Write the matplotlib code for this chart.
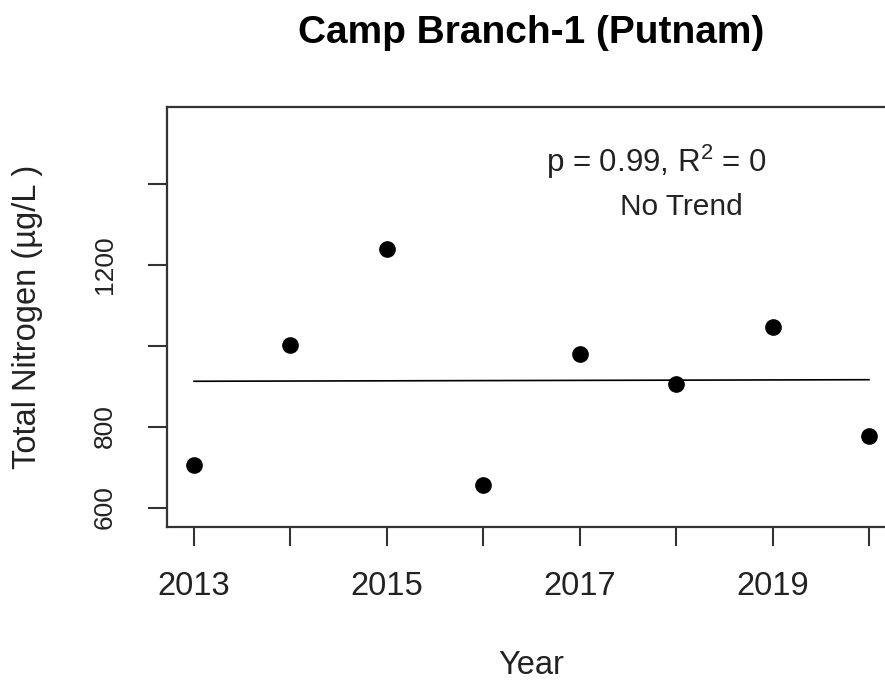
import numpy as np
import matplotlib
matplotlib.use("Agg")
import matplotlib.pyplot as plt

plt.rcParams['font.family'] = ['Liberation Sans', 'DejaVu Sans']
plt.rcParams['mathtext.fontset'] = 'custom'
plt.rcParams['mathtext.rm'] = 'Liberation Sans'

# data
years = [2013, 2014, 2015, 2016, 2017, 2018, 2019, 2020]
tn = [705, 1002, 1239, 656, 980, 905, 1046, 777]
yticks = [600, 800, 1000, 1200, 1400]
ytick_labels = ['600', '800', '', '1200', '']
xtick_labels = ['2013', '', '2015', '', '2017', '', '2019', '']

W, H = 885, 682
fig = plt.figure(figsize=(W / 100, H / 100), dpi=100)
# plot region (right edge runs past the image, like the cropped original)
left, right, top, bottom = 167, 896, 107, 527
ax = fig.add_axes([left / W, 1 - bottom / H, (right - left) / W, (bottom - top) / H])

ax.plot(years, tn, 'o', color='black', ms=11, clip_on=False)

# linear trend
coef = np.polyfit(years, tn, 1)
fit = np.polyval(coef, years)
ax.plot([years[0], years[-1]], [fit[0], fit[-1]], color='black', lw=1.2)

ax.set_xlim(2012.72, 2020.28)
ax.set_ylim(552, 1589)

ax.set_xticks(years)
ax.set_xticklabels(xtick_labels, fontsize=23.5, color='#222222')
ax.set_yticks(yticks)
ax.set_yticklabels(ytick_labels, fontsize=19, rotation=90, va='center', color='#222222')
ax.tick_params(length=14, width=1.5, color='#333333')
ax.tick_params(axis='y', pad=22)
ax.tick_params(axis='x', pad=18)
for s in ax.spines.values():
    s.set_linewidth(1.6)
    s.set_color('#333333')

ax.set_xlabel('Year', fontsize=23.5, labelpad=34, color='#222222')
ax.set_ylabel('Total Nitrogen (µg/L )', fontsize=23.5, labelpad=36, color='#222222')
ax.set_title('Camp Branch-1 (Putnam)', fontsize=28, fontweight='bold', pad=46)

ax.text(0.672, 0.869, r'p = 0.99, $\mathregular{R^2}$ = 0', transform=ax.transAxes,
        ha='center', va='center', fontsize=22.5, color='#222222')
ax.text(0.705, 0.762, 'No Trend', transform=ax.transAxes,
        ha='center', va='center', fontsize=21.5, color='#222222')

fig.savefig('out.png', dpi=100)
